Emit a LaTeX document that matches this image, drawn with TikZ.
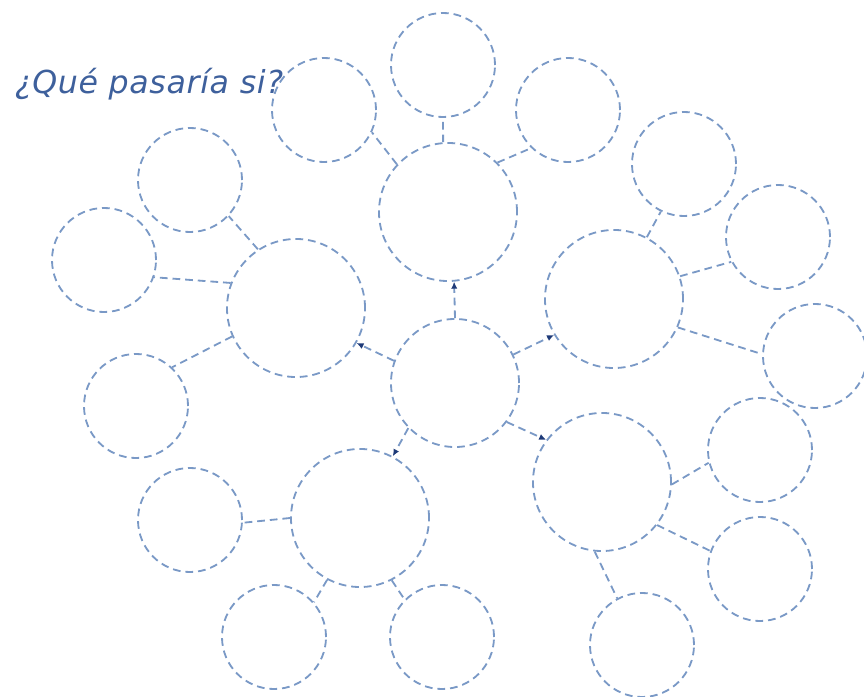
\documentclass[tikz,border=0pt]{standalone}
\usepackage{fontspec}
\newfontfamily\titlefont[LetterSpace=2]{DejaVu Sans}
\usetikzlibrary{arrows.meta}
\definecolor{linecol}{RGB}{122,153,198}
\definecolor{tipcol}{RGB}{30,58,120}
\definecolor{titlecol}{RGB}{62,96,156}
\tikzset{
  bubble/.style={circle, draw=linecol, line width=1.3pt, dash pattern=on 5.5pt off 3.5pt, inner sep=0pt},
  bigbubble/.style={bubble, minimum size=3.45cm},
  smallbubble/.style={bubble, minimum size=2.6cm},
  link/.style={draw=linecol, line width=1.3pt, dash pattern=on 5.5pt off 3.5pt},
  linkarrow/.style={link, -{Latex[length=5pt,width=4.5pt,color=tipcol]}},
}
\begin{document}
\begin{tikzpicture}[x=0.025cm, y=-0.025cm]
  \useasboundingbox (0,0) rectangle (864,697);
  \node[anchor=base west, text=titlecol, font=\titlefont\itshape\fontsize{22.5}{26}\selectfont] (title) at (10,93) {¿Qué pasaría si?};
  % centre and main bubbles
  \node[bubble, minimum size=3.2cm] (c) at (455,383) {};
  \node[bigbubble] (t) at (448,212) {};
  \node[bigbubble] (l) at (296,308) {};
  \node[bigbubble] (r) at (614,299) {};
  \node[bigbubble] (bl) at (360,518) {};
  \node[bigbubble] (br) at (602,482) {};
  % satellites
  \node[smallbubble] (t1) at (324,110) {};
  \node[smallbubble] (t2) at (443,65) {};
  \node[smallbubble] (t3) at (568,110) {};
  \node[smallbubble] (r1) at (684,164) {};
  \node[smallbubble] (r2) at (778,237) {};
  \node[smallbubble] (r3) at (815,356) {};
  \node[smallbubble] (l1) at (190,180) {};
  \node[smallbubble] (l2) at (104,260) {};
  \node[smallbubble] (l3) at (136,406) {};
  \node[smallbubble] (bl1) at (190,520) {};
  \node[smallbubble] (bl2) at (274,637) {};
  \node[smallbubble] (bl3) at (442,637) {};
  \node[smallbubble] (br1) at (760,450) {};
  \node[smallbubble] (br2) at (760,569) {};
  \node[smallbubble] (br3) at (642,645) {};
  % arrows from the centre
  \draw[linkarrow] (c.90) -- (t.275);
  \draw[linkarrow] (c.160) -- (l.-30);
  \draw[linkarrow] (c.26) -- (r.211);
  \draw[linkarrow] (c.224) -- (bl.62);
  \draw[linkarrow] (c.-37) -- (br.143);
  % links to satellites
  \draw[link] (t.137) -- (t1.-25);
  \draw[link] (t.94) -- (t2.270);
  \draw[link] (t.45) -- (t3.226);
  \draw[link] (r.62) -- (r1.244);
  \draw[link] (r.19) -- (r2.208);
  \draw[link] (r.-24) -- (r3.178);
  \draw[link] (l.123) -- (l1.-43);
  \draw[link] (l.159) -- (l2.-19);
  \draw[link] (l.204) -- (l3.47);
  \draw[link] (bl.180) -- (bl1.-3);
  \draw[link] (bl.242) -- (bl2.41);
  \draw[link] (bl.-63) -- (bl3.135);
  \draw[link] (br.-2) -- (br1.194);
  \draw[link] (br.-38) -- (br2.160);
  \draw[link] (br.264) -- (br3.118);
\end{tikzpicture}
\end{document}
